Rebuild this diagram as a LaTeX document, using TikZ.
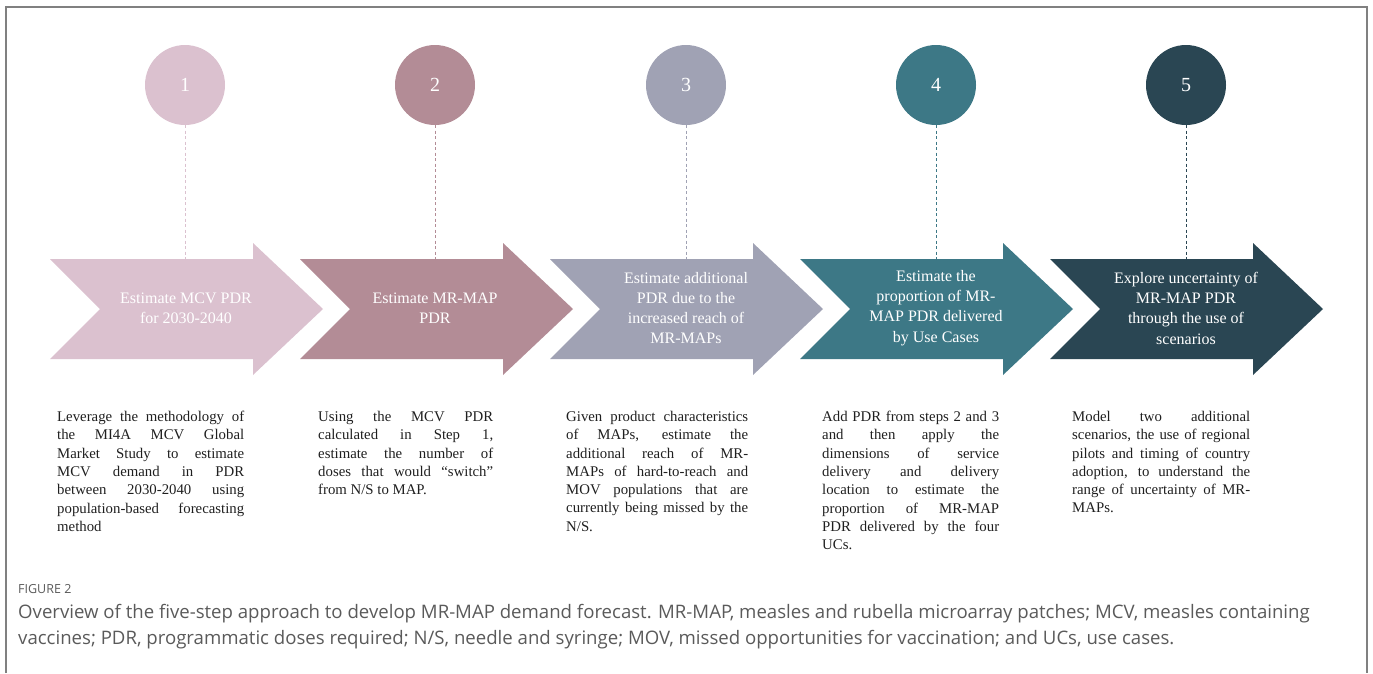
\documentclass[tikz,border=0pt]{standalone}
\usepackage{fontspec}
\setmainfont{Liberation Serif}
\newfontfamily\capfont{Open Sans}
\definecolor{stepone}{HTML}{DBC1CF}
\definecolor{steptwo}{HTML}{B38C96}
\definecolor{stepthree}{HTML}{A0A2B4}
\definecolor{stepfour}{HTML}{3D7886}
\definecolor{stepfive}{HTML}{2A4653}
\definecolor{capgray}{HTML}{5A5A5A}
\tolerance=10000
\hbadness=10000
\hyphenpenalty=10000
\begin{document}
\begin{tikzpicture}[x=1pt,y=-1pt,
  num/.style={circle,minimum size=80pt,inner sep=0pt,text=white,font=\fontsize{20}{24}\selectfont},
  lbl/.style={text=white,align=center,inner sep=0pt,font=\fontsize{16}{20.3}\selectfont},
  desc/.style={anchor=north west,inner sep=0pt,text=black!88,font=\fontsize{14.8}{18.3}\selectfont},
  link/.style={line width=0.8pt,dash pattern=on 3pt off 2.5pt}]
\useasboundingbox (0,0) rectangle (1373,673);
\draw[black!50,line width=1.5pt] (6,673) -- (6,7) -- (1367,7) -- (1367,673);
% arrows
\fill[stepone] (50,259) -- (253,259) -- (253,243) -- (323,309) -- (253,375) -- (253,359) -- (50,359) -- (100,309) -- cycle;
\fill[steptwo] (300,259) -- (503,259) -- (503,243) -- (573,309) -- (503,375) -- (503,359) -- (300,359) -- (350,309) -- cycle;
\fill[stepthree] (550,259) -- (753,259) -- (753,243) -- (823,309) -- (753,375) -- (753,359) -- (550,359) -- (600,309) -- cycle;
\fill[stepfour] (800,259) -- (1003,259) -- (1003,243) -- (1073,309) -- (1003,375) -- (1003,359) -- (800,359) -- (850,309) -- cycle;
\fill[stepfive] (1050,259) -- (1253,259) -- (1253,243) -- (1323,309) -- (1253,375) -- (1253,359) -- (1050,359) -- (1100,309) -- cycle;
\node[lbl] (a1) at (186,308) {Estimate MCV PDR\\for 2030-2040};
\node[lbl] (a2) at (435,308) {Estimate MR-MAP\\PDR};
\node[lbl] (a3) at (686,308) {Estimate additional\\PDR due to the\\increased reach of\\MR-MAPs};
\node[lbl] (a4) at (936,308) {Estimate the\\proportion of MR-\\MAP PDR delivered\\by Use Cases};
\node[lbl] (a5) at (1186,308) {Explore uncertainty of\\MR-MAP PDR\\through the use of\\scenarios};
% circles
\node[num,fill=stepone] (c1) at (185,85) {1};
\node[num,fill=steptwo] (c2) at (435,85) {2};
\node[num,fill=stepthree] (c3) at (686,85) {3};
\node[num,fill=stepfour] (c4) at (936,85) {4};
\node[num,fill=stepfive] (c5) at (1186,85) {5};
\coordinate (t1) at (185,259);
\coordinate (t2) at (435,259);
\coordinate (t3) at (686,259);
\coordinate (t4) at (936,259);
\coordinate (t5) at (1186,259);
\draw[link,stepone] (c1) -- (t1);
\draw[link,steptwo] (c2) -- (t2);
\draw[link,stepthree] (c3) -- (t3);
\draw[link,stepfour] (c4) -- (t4);
\draw[link,stepfive] (c5) -- (t5);
% descriptions
\node[desc] (d1) at (57,411) {\parbox[t]{187pt}{Leverage the methodology of\linebreak the MI4A MCV Global\linebreak Market Study to estimate\linebreak MCV demand in PDR\linebreak between 2030-2040 using\linebreak population-based forecasting\linebreak method}};
\node[desc] (d2) at (318,411) {\parbox[t]{175pt}{Using the MCV PDR\linebreak calculated in Step 1,\linebreak estimate the number of\linebreak doses that would “switch”\linebreak from N/S to MAP.}};
\node[desc] (d3) at (566,411) {\parbox[t]{182pt}{Given product characteristics\linebreak of MAPs, estimate the\linebreak additional reach of MR-\linebreak MAPs of hard-to-reach and\linebreak MOV populations that are\linebreak currently being missed by the\linebreak N/S.}};
\node[desc] (d4) at (822,411) {\parbox[t]{177pt}{Add PDR from steps 2 and 3\linebreak and then apply the\linebreak dimensions of service\linebreak delivery and delivery\linebreak location to estimate the\linebreak proportion of MR-MAP\linebreak PDR delivered by the four\linebreak UCs.}};
\node[desc] (d5) at (1072,411) {\parbox[t]{178pt}{Model two additional\linebreak scenarios, the use of regional\linebreak pilots and timing of country\linebreak adoption, to understand the\linebreak range of uncertainty of MR-\linebreak MAPs.}};
% caption
\node[anchor=west,inner sep=0pt,text=capgray,font=\capfont\fontsize{12.5}{15}\selectfont] (fig) at (18,589) {FIGURE 2};
\node[anchor=north west,inner sep=0pt,align=left,text=capgray,font=\capfont\fontsize{18.6}{26}\selectfont] (cap) at (18,604) {Overview of the five-step approach to develop MR-MAP demand forecast. MR-MAP, measles and rubella microarray patches; MCV, measles containing\\vaccines; PDR, programmatic doses required; N/S, needle and syringe; MOV, missed opportunities for vaccination; and UCs, use cases.};
\end{tikzpicture}
\end{document}
